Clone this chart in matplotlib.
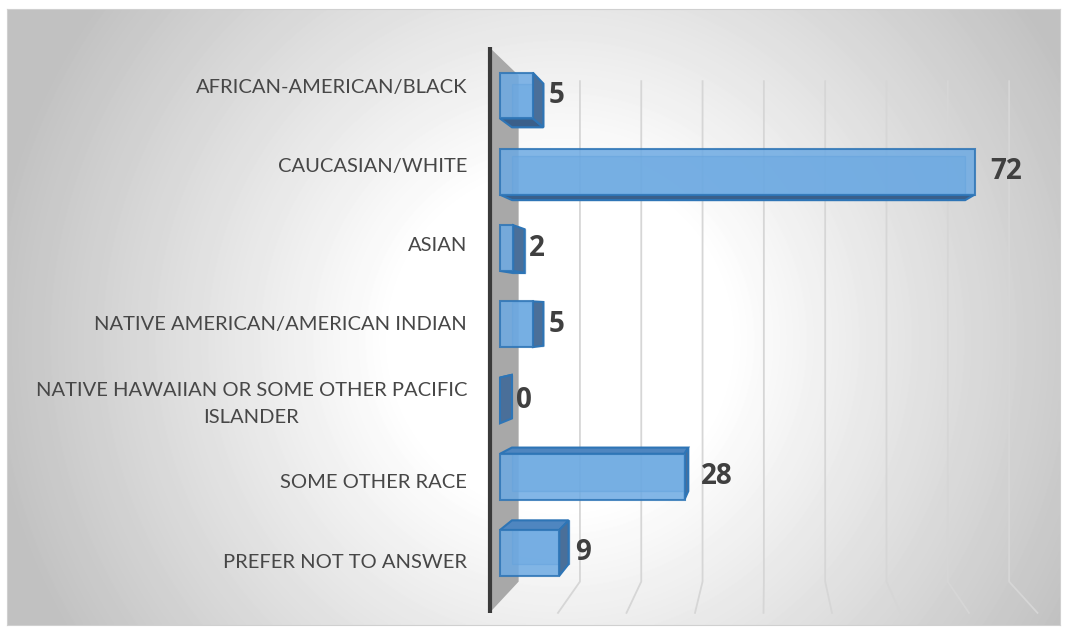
import numpy as np
import matplotlib.pyplot as plt
from matplotlib.patches import Polygon

categories = ["AFRICAN-AMERICAN/BLACK", "CAUCASIAN/WHITE", "ASIAN",
              "NATIVE AMERICAN/AMERICAN INDIAN",
              "NATIVE HAWAIIAN OR SOME OTHER PACIFIC\nISLANDER",
              "SOME OTHER RACE", "PREFER NOT TO ANSWER"]
counts = [5, 72, 2, 5, 0, 28, 9]
grid_values = [10, 20, 30, 40, 50, 60, 70, 80]

W, H = 1067, 633
fig = plt.figure(figsize=(W / 100, H / 100), dpi=100)

# chart area with a soft radial fill
left, top, right, bottom = 7, 9, 1060, 625
bg = fig.add_axes([left / W, 1 - bottom / H, (right - left) / W, (bottom - top) / H])
yy, xx = np.mgrid[top:bottom, left:right]
r = np.hypot((xx - 560) / 560, (yy - 340) / 560)
shade = 1 - 0.24 * np.clip((r - 0.3) / 0.72, 0, 1)
bg.imshow(shade, cmap="gray", vmin=0, vmax=1, aspect="auto", interpolation="bilinear")
bg.set_xticks([])
bg.set_yticks([])
for s in bg.spines.values():
    s.set_color("#d0d0d0")

# main axes: x in counts, y in category slots (front plane)
x0, sx = 489.5, 6.85
y0, sy = 87, 79.2
ax = fig.add_axes([0, 0, 1, 1])
ax.patch.set_alpha(0)
ax.set_xlim(-x0 / sx, (W - x0) / sx)
ax.set_ylim((H - y0) / sy, -y0 / sy)
ax.axis("off")

# simple perspective toward a vanishing point
vx, vy = (767 - x0) / sx, (315 - y0) / sy
shrink = 0.105


def proj(v, c, z):
    s = 1 - shrink * z
    return (vx + (v - vx) * s, vy + (c - vy) * s)


c_top, c_grid, c_floor = -0.5, -0.42, 6.64

# side wall and category axis
wall = [proj(0, c_top, 0), proj(0, c_top, 1), proj(0, c_floor, 1), proj(0, c_floor, 0)]
ax.add_patch(Polygon(wall, closed=True, facecolor="#a8a8a8", edgecolor="none", zorder=1))
p, q = proj(0, c_top, 0), proj(0, c_floor, 0)
ax.plot([p[0], q[0]], [p[1], q[1]], color="#3a3a3a", lw=3, zorder=6, solid_capstyle="butt")

# gridlines on back wall and floor
for g in grid_values:
    pts = [proj(g, c_grid, 1), proj(g, c_floor, 1), proj(g, c_floor, 0)]
    ax.plot([a for a, b in pts], [b for a, b in pts], color="#d6d6d6", lw=1.3, zorder=2)

# 3D bars
z0, z1, h = 0.36, 0.77, 0.3
edge = "#2E75B6"
for i, v in enumerate(counts):
    front = [proj(0, i - h, z0), proj(v, i - h, z0), proj(v, i + h, z0), proj(0, i + h, z0)]
    back = [proj(0, i - h, z1), proj(v, i - h, z1), proj(v, i + h, z1), proj(0, i + h, z1)]
    topf = [proj(0, i - h, z0), proj(v, i - h, z0), proj(v, i - h, z1), proj(0, i - h, z1)]
    botf = [proj(0, i + h, z0), proj(v, i + h, z0), proj(v, i + h, z1), proj(0, i + h, z1)]
    endf = [proj(v, i - h, z0), proj(v, i + h, z0), proj(v, i + h, z1), proj(v, i - h, z1)]

    ax.add_patch(Polygon(back, closed=True, facecolor="#5B9BD5", alpha=0.5,
                         edgecolor=edge, lw=1, zorder=3))
    if i - h > vy:
        ax.add_patch(Polygon(topf, closed=True, facecolor="#4F86C0",
                             edgecolor=edge, lw=1.5, zorder=4))
    if i + h < vy:
        ax.add_patch(Polygon(botf, closed=True, facecolor="#3A5F8A",
                             edgecolor=edge, lw=1.5, zorder=4))
    if v < vx:
        ax.add_patch(Polygon(endf, closed=True, facecolor="#4A6F99",
                             edgecolor=edge, lw=1.5, zorder=4))
    if v > 0:
        ax.add_patch(Polygon(front, closed=True, facecolor="#6DAAE3", alpha=0.85,
                             edgecolor=edge, lw=1.5, zorder=5))

    lx, ly = proj(v, i, z0)
    ax.annotate(str(v), (lx, ly), xytext=(11.5, 0), textcoords="offset points",
                ha="left", va="center", fontsize=20, fontweight="bold",
                color="#404040", family="Open Sans", zorder=7)

# category labels
for i, name in enumerate(categories):
    ax.text((467 - x0) / sx, i, name, ha="right", va="center", fontsize=14.5,
            color="#474747", family="Lato", multialignment="center",
            linespacing=1.75, zorder=7)

fig.savefig("out.png", dpi=100)
